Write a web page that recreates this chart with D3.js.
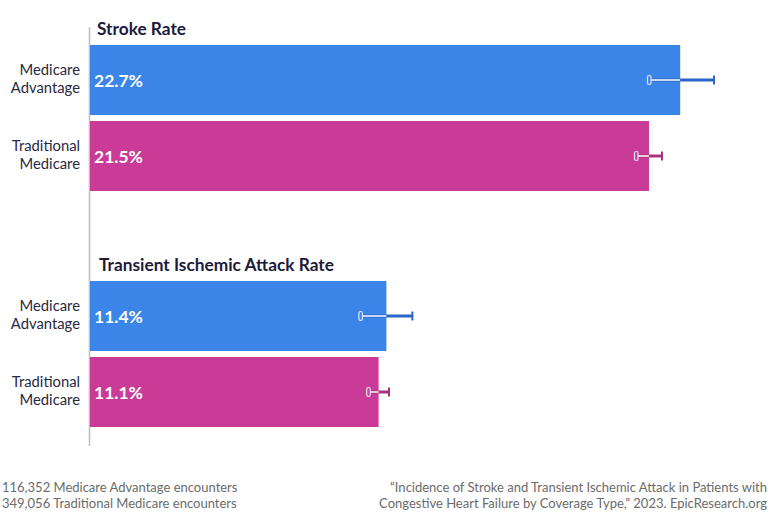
<!DOCTYPE html>
<html>
<head>
<meta charset="utf-8">
<script src="https://cdn.jsdelivr.net/npm/d3@7"></script>
<style>
  body { margin: 0; background: #fff; }
  svg { display: block; font-family: Lato, "Open Sans", sans-serif; }
</style>
</head>
<body>
<script>
const groups = ["Stroke Rate", "Transient Ischemic Attack Rate"];
const series = ["Medicare Advantage", "Traditional Medicare"];
const seriesLines = [["Medicare", "Advantage"], ["Traditional", "Medicare"]];
// values per group, one per series
const values = [[22.7, 21.5], [11.4, 11.1]];
const lowCI = [[21.5, 21.0], [10.4, 10.7]];
const highCI = [[24.0, 22.0], [12.4, 11.5]];
const footLeft = ["116,352 Medicare Advantage encounters", "349,056 Traditional Medicare encounters"];
const footRight = ["\u201cIncidence of Stroke and Transient Ischemic Attack in Patients with",
                   "Congestive Heart Failure by Coverage Type,\u201d 2023. EpicResearch.org"];

const w = 768;
const h = 512;

const barColors = ["#3b84e8", "#c93b96"];
const errColors = ["#2a64c4", "#a8307f"];

const svg = d3.select("body")
  .append("svg")
  .attr("width", w)
  .attr("height", h);

const x = d3.scaleLinear().domain([0, 26]).range([90, 766]);

const yGroup = d3.scaleBand()
  .domain(groups)
  .range([27, 27 + 236 * 2])
  .padding(0);

const yBar = d3.scaleBand()
  .domain(series)
  .range([18, 164])
  .paddingInner(6 / 76)
  .paddingOuter(0);

// axis line
svg.append("line")
  .attr("x1", 89.5).attr("x2", 89.5)
  .attr("y1", 27).attr("y2", 446)
  .attr("stroke", "#bdbdbd")
  .attr("stroke-width", 1.5);

groups.forEach((g, gi) => {
  const gy = yGroup(g);
  const grp = svg.append("g").attr("transform", "translate(0," + gy + ")");

  grp.append("text")
    .attr("x", gi === 0 ? 97 : 99)
    .attr("y", 8)
    .attr("fill", "#1d1b3a")
    .attr("font-size", 17.3)
    .attr("font-weight", 700)
    .text(g);

  series.forEach((s, si) => {
    const y0 = yBar(s);
    const bh = yBar.bandwidth();
    const cy = y0 + bh / 2;
    const v = values[gi][si];

    grp.append("rect")
      .attr("x", x(0))
      .attr("y", y0)
      .attr("width", x(v) - x(0))
      .attr("height", bh)
      .attr("fill", barColors[si]);

    // category labels
    const lab = grp.append("text")
      .attr("text-anchor", "end")
      .attr("fill", "#2a2940")
      .attr("font-size", 14.8);
    seriesLines[si].forEach((t, li) => {
      lab.append("tspan")
        .attr("x", 80)
        .attr("y", cy - 5.5 + li * 18)
        .text(t);
    });

    grp.append("text")
      .attr("x", 94)
      .attr("y", cy + 6.5)
      .attr("fill", "#fff")
      .attr("font-size", 17.5)
      .attr("font-weight", 700)
      .text(v.toFixed(1) + "%");

    // error bar
    const lo = x(lowCI[gi][si]);
    const hi = x(highCI[gi][si]);
    const ey = cy;
    grp.append("line")
      .attr("x1", lo).attr("x2", hi)
      .attr("y1", ey).attr("y2", ey)
      .attr("stroke", errColors[si])
      .attr("stroke-width", 3);
    grp.append("line")
      .attr("x1", lo).attr("x2", Math.min(hi, x(v)))
      .attr("y1", ey).attr("y2", ey)
      .attr("stroke", "#fff")
      .attr("stroke-width", 1.5);
    grp.append("rect")
      .attr("x", lo - 1.5)
      .attr("y", ey - 4.5)
      .attr("width", 3.5)
      .attr("height", 9)
      .attr("rx", 1.7)
      .attr("fill", barColors[si])
      .attr("stroke", "#dfe8fa")
      .attr("stroke-width", 1.2);
    grp.append("line")
      .attr("x1", hi).attr("x2", hi)
      .attr("y1", ey - 4.5).attr("y2", ey + 4.5)
      .attr("stroke", errColors[si])
      .attr("stroke-width", 2);
  });
});

// footers
footLeft.forEach((t, i) => {
  svg.append("text")
    .attr("x", 2)
    .attr("y", 492 + i * 16)
    .attr("fill", "#6b6b6b")
    .attr("font-size", 13)
    .text(t);
});
footRight.forEach((t, i) => {
  svg.append("text")
    .attr("x", 767)
    .attr("y", 492 + i * 16)
    .attr("text-anchor", "end")
    .attr("fill", "#6b6b6b")
    .attr("font-size", 13)
    .text(t);
});
</script>
</body>
</html>
